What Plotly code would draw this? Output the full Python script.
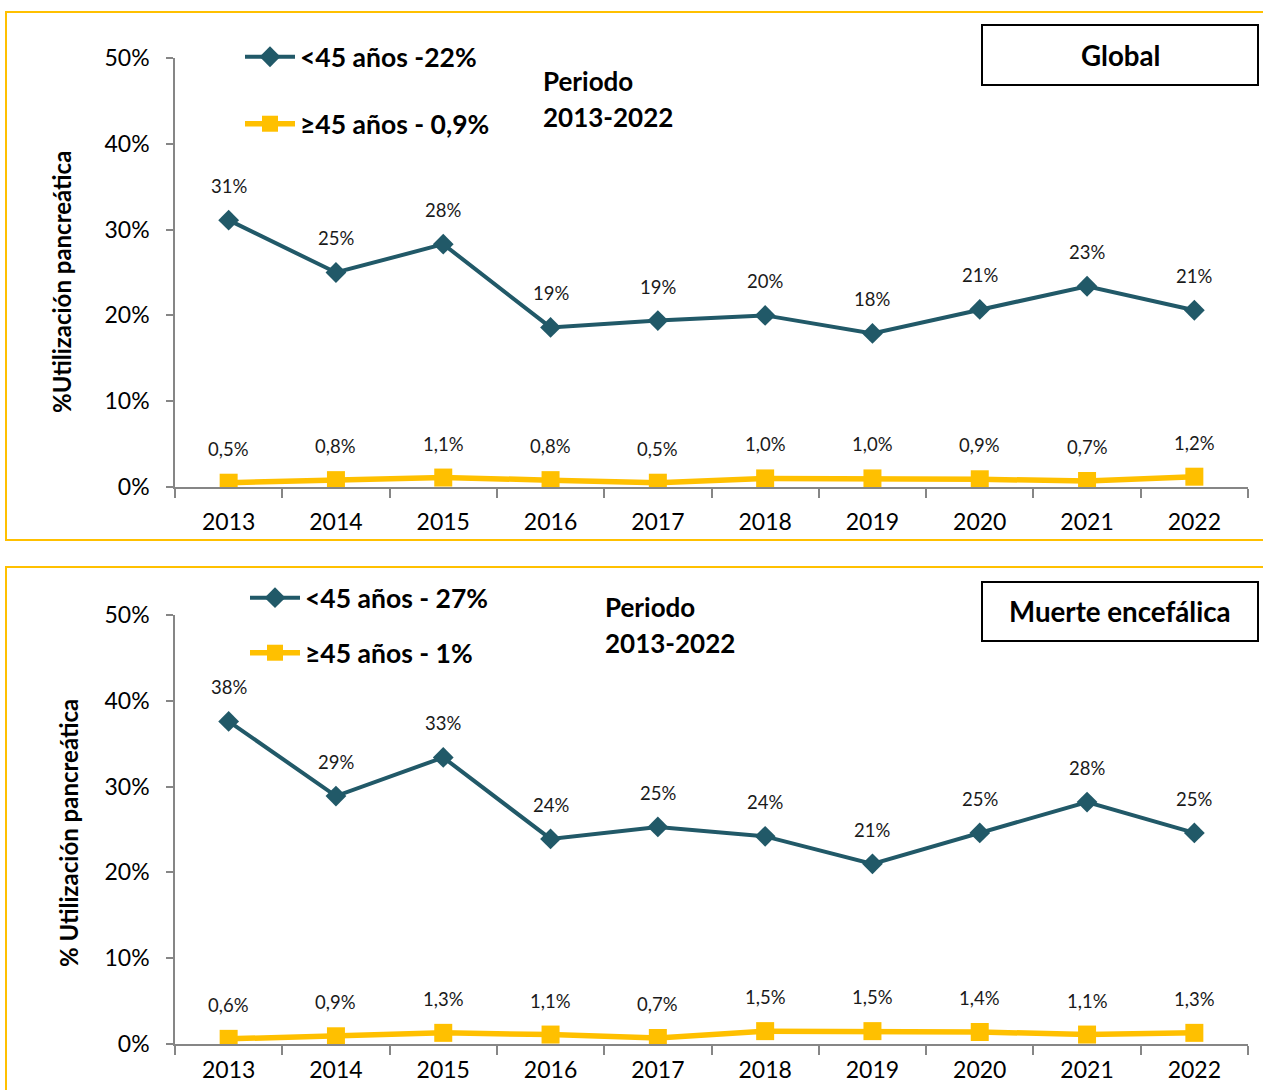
import plotly.graph_objects as go

W, H = 1263, 1090

years = ["2013", "2014", "2015", "2016", "2017", "2018", "2019", "2020", "2021", "2022"]

# Global panel (values in %)
global_lt45 = [31.1, 25.0, 28.3, 18.6, 19.4, 20.0, 17.9, 20.7, 23.4, 20.6]
global_ge45 = [0.5, 0.8, 1.1, 0.8, 0.5, 1.0, 1.0, 0.9, 0.7, 1.2]

# Muerte encefálica panel (values in %)
me_lt45 = [37.6, 28.9, 33.4, 23.9, 25.3, 24.2, 21.0, 24.6, 28.2, 24.6]
me_ge45 = [0.6, 0.9, 1.3, 1.1, 0.7, 1.5, 1.5, 1.4, 1.1, 1.3]

legend_names = [
    ["<45 años -22%", "≥45 años - 0,9%"],
    ["<45 años - 27%", "≥45 años - 1%"],
]
panel_titles = ["Global", "Muerte encefálica"]
axis_titles = ["%Utilización pancreática", "% Utilización pancreática"]
period_lines = ["Periodo", "2013-2022"]
y_ticks = [0, 10, 20, 30, 40, 50]
y_ticktext = [f"{v}%" for v in y_ticks]

TEAL = "#215968"
GOLD = "#FFC000"
GRAY = "#868686"
FONT = "Lato"


def px(x):
    return x / W


def py(y):
    return 1 - y / H


fig = go.Figure()

panels = [
    dict(lt=global_lt45, ge=global_ge45, xa="x", ya="y", y0=487, y50=58,
         leg=("legend", "legend2"), leg_y=(57, 124), leg_x=240,
         per_x=541, per_y=(81, 117), box=(982, 25, 1258, 85),
         at=(62, 282), frame=(12, 540), xstand=14),
    dict(lt=me_lt45, ge=me_ge45, xa="x2", ya="y2", y0=1044, y50=615,
         leg=("legend3", "legend4"), leg_y=(598, 653), leg_x=245,
         per_x=603, per_y=(607, 643), box=(982, 582, 1258, 641),
         at=(68, 833), frame=(567, 1200), xstand=5),
]

annotations = []
shapes = []
layout_extra = {}
LABEL_FONT = dict(family=FONT, size=18.5, color="#1a1a1a")

for i, p in enumerate(panels):
    fig.add_trace(go.Scatter(
        x=years, y=p["lt"], xaxis=p["xa"], yaxis=p["ya"],
        mode="lines+markers", name=legend_names[i][0], legend=p["leg"][0],
        line=dict(color=TEAL, width=4),
        marker=dict(symbol="diamond", size=16, color=TEAL),
        hoverinfo="skip",
    ))
    fig.add_trace(go.Scatter(
        x=years, y=p["ge"], xaxis=p["xa"], yaxis=p["ya"],
        mode="lines+markers", name=legend_names[i][1], legend=p["leg"][1],
        line=dict(color=GOLD, width=5.5),
        marker=dict(symbol="square", size=18, color=GOLD),
        hoverinfo="skip",
    ))
    xref = p["xa"]
    yref = p["ya"]
    for idx, v in enumerate(p["lt"]):
        annotations.append(dict(x=idx, y=v, xref=xref, yref=yref, text=f"{round(v)}%",
                                showarrow=False, yshift=34, font=LABEL_FONT))
    for idx, v in enumerate(p["ge"]):
        annotations.append(dict(x=idx, y=v, xref=xref, yref=yref,
                                text=f"{v:.1f}".replace(".", ",") + "%",
                                showarrow=False, yshift=34, font=LABEL_FONT))
    # period text
    for line, yy in zip(period_lines, p["per_y"]):
        annotations.append(dict(x=px(p["per_x"]), y=py(yy), xref="paper", yref="paper",
                                xanchor="left", yanchor="middle", text=f"<b>{line}</b>",
                                showarrow=False, font=dict(family=FONT, size=26, color="#000")))
    # title box
    bx0, by0, bx1, by1 = p["box"]
    shapes.append(dict(type="rect", xref="paper", yref="paper",
                       x0=px(bx0), x1=px(bx1), y0=py(by1), y1=py(by0),
                       line=dict(color="#000", width=2), fillcolor="rgba(0,0,0,0)"))
    annotations.append(dict(x=px((bx0 + bx1) / 2), y=py((by0 + by1) / 2), xref="paper", yref="paper",
                            text=f"<b>{panel_titles[i]}</b>", showarrow=False,
                            xanchor="center", yanchor="middle",
                            font=dict(family=FONT, size=27.7, color="#000")))
    # axis title
    annotations.append(dict(x=px(p["at"][0]), y=py(p["at"][1]), xref="paper", yref="paper",
                            text=f"<b>{axis_titles[i]}</b>", textangle=-90, showarrow=False,
                            xanchor="center", yanchor="middle",
                            font=dict(family=FONT, size=24, color="#000")))
    # gold frame
    f0, f1 = p["frame"]
    shapes.append(dict(type="rect", xref="paper", yref="paper",
                       x0=px(6), x1=px(1300), y0=py(f1), y1=py(f0),
                       line=dict(color=GOLD, width=2), fillcolor="rgba(0,0,0,0)", layer="below"))
    # axes
    xkey = "xaxis" if p["xa"] == "x" else "xaxis2"
    ykey = "yaxis" if p["ya"] == "y" else "yaxis2"
    layout_extra[xkey] = dict(
        domain=[px(175), px(1248)], anchor=p["ya"], type="category",
        range=[-0.5, 9.5], showline=True, linecolor=GRAY, linewidth=1.5,
        ticks="outside", tickson="boundaries", ticklen=9, tickcolor=GRAY, tickwidth=1.5,
        ticklabelstandoff=p["xstand"],
        showgrid=False, zeroline=False, fixedrange=True, automargin=False,
        tickfont=dict(family=FONT, size=23, color="#000"),
    )
    layout_extra[ykey] = dict(
        domain=[py(p["y0"]), py(p["y50"])], anchor=p["xa"], range=[0, 50],
        tickmode="array", tickvals=y_ticks, ticktext=y_ticktext,
        showline=True, linecolor=GRAY, linewidth=1.5,
        ticks="outside", ticklen=7, tickcolor=GRAY, tickwidth=1.5,
        ticklabelstandoff=12,
        showgrid=False, zeroline=False, fixedrange=True, automargin=False,
        tickfont=dict(family=FONT, size=23, color="#000"),
    )
    for lk, ly in zip(p["leg"], p["leg_y"]):
        layout_extra[lk] = dict(x=px(p["leg_x"]), y=py(ly), xanchor="left", yanchor="middle",
                                bgcolor="rgba(0,0,0,0)", borderwidth=0,
                                font=dict(family=FONT, size=26.5, color="#000", weight="bold"),
                                itemwidth=50, tracegroupgap=0)

fig.update_layout(
    width=W, height=H, margin=dict(l=0, r=0, t=0, b=0, autoexpand=False),
    paper_bgcolor="white", plot_bgcolor="white",
    annotations=annotations, shapes=shapes, showlegend=True,
    **layout_extra,
)

fig.write_html("out.html", config={"displayModeBar": False},
               post_script="document.body.style.margin='0';document.body.style.overflow='hidden';")
